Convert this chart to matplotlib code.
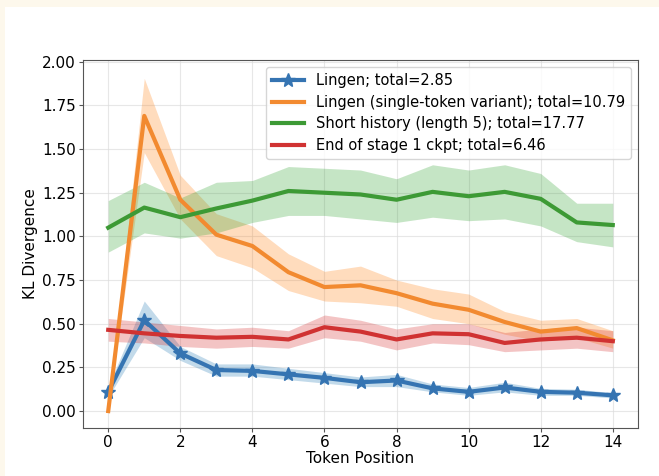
import numpy as np
import matplotlib
matplotlib.use("Agg")
import matplotlib.pyplot as plt
from matplotlib.patches import Rectangle

positions = list(range(15))

lingen_mean = [0.11, 0.52, 0.33, 0.235, 0.23, 0.21, 0.19, 0.165, 0.175, 0.13, 0.11, 0.135, 0.11, 0.105, 0.09]
lingen_lo = [0.08, 0.42, 0.29, 0.20, 0.20, 0.18, 0.16, 0.14, 0.14, 0.11, 0.09, 0.11, 0.09, 0.09, 0.075]
lingen_hi = [0.14, 0.63, 0.37, 0.27, 0.27, 0.245, 0.22, 0.195, 0.21, 0.155, 0.135, 0.165, 0.13, 0.125, 0.105]

single_mean = [0.0, 1.69, 1.21, 1.01, 0.945, 0.795, 0.71, 0.72, 0.675, 0.615, 0.58, 0.51, 0.455, 0.475, 0.405]
single_lo = [0.0, 1.48, 1.10, 0.89, 0.82, 0.69, 0.63, 0.62, 0.60, 0.53, 0.50, 0.44, 0.40, 0.42, 0.36]
single_hi = [0.0, 1.905, 1.35, 1.13, 1.06, 0.90, 0.80, 0.83, 0.75, 0.70, 0.67, 0.57, 0.52, 0.53, 0.46]

short_mean = [1.05, 1.165, 1.11, 1.16, 1.205, 1.26, 1.25, 1.24, 1.21, 1.255, 1.23, 1.255, 1.215, 1.08, 1.065]
short_lo = [0.91, 1.02, 0.99, 1.02, 1.08, 1.12, 1.12, 1.10, 1.08, 1.11, 1.09, 1.10, 1.06, 0.97, 0.94]
short_hi = [1.205, 1.31, 1.22, 1.31, 1.32, 1.40, 1.39, 1.38, 1.33, 1.41, 1.38, 1.41, 1.36, 1.19, 1.19]

stage1_mean = [0.465, 0.445, 0.43, 0.42, 0.425, 0.41, 0.48, 0.455, 0.41, 0.445, 0.44, 0.39, 0.41, 0.42, 0.40]
stage1_lo = [0.40, 0.39, 0.37, 0.36, 0.37, 0.36, 0.42, 0.40, 0.35, 0.39, 0.38, 0.34, 0.35, 0.36, 0.34]
stage1_hi = [0.53, 0.51, 0.49, 0.47, 0.48, 0.46, 0.55, 0.52, 0.47, 0.50, 0.50, 0.45, 0.47, 0.48, 0.46]

labels = [
    "Lingen; total=2.85",
    "Lingen (single-token variant); total=10.79",
    "Short history (length 5); total=17.77",
    "End of stage 1 ckpt; total=6.46",
]
colors = ["#3574b2", "#f28a30", "#3d9a35", "#d03232"]
fill_colors = ["#1f77b4", "#ff7f0e", "#2ca02c", "#d62728"]

fig = plt.figure(figsize=(6.59, 4.76), dpi=100, facecolor="#fdf8ec")
page = Rectangle((5 / 659, 0), 1, 1 - 7 / 476, transform=fig.transFigure,
                 facecolor="white", edgecolor="none", zorder=-10)
fig.add_artist(page)
ax = fig.add_axes([83 / 659, 1 - 428 / 476, (638 - 83) / 659, (428 - 60) / 476])
ax.set_zorder(1)

series = [
    (lingen_mean, lingen_lo, lingen_hi),
    (single_mean, single_lo, single_hi),
    (short_mean, short_lo, short_hi),
    (stage1_mean, stage1_lo, stage1_hi),
]
for i, (m, lo, hi) in enumerate(series):
    kw = dict(marker="*", markersize=10) if i == 0 else {}
    ax.plot(positions, m, color=colors[i], lw=3, label=labels[i], zorder=3, **kw)
    ax.fill_between(positions, lo, hi, color=fill_colors[i], alpha=0.27, lw=0, zorder=2)

ax.set_xlim(-0.7, 14.7)
ax.set_ylim(-0.097, 2.01)
ax.set_xticks([0, 2, 4, 6, 8, 10, 12, 14])
ax.set_yticks(np.arange(0, 2.01, 0.25))
ax.yaxis.set_major_formatter(matplotlib.ticker.FormatStrFormatter("%.2f"))
ax.tick_params(labelsize=11, length=3, pad=2, color="#555555")
ax.grid(True, color="#dddddd", lw=0.8, alpha=0.7)
ax.set_axisbelow(True)
for s in ax.spines.values():
    s.set_color("#555555")
ax.set_xlabel("Token Position", fontsize=11, labelpad=1)
ax.set_ylabel("KL Divergence", fontsize=11, labelpad=3)
ax.legend(loc="upper right", fontsize=10.5, handlelength=2.2, borderaxespad=0.5,
          labelspacing=0.45)

fig.savefig("out.png", dpi=100, facecolor=fig.get_facecolor())
